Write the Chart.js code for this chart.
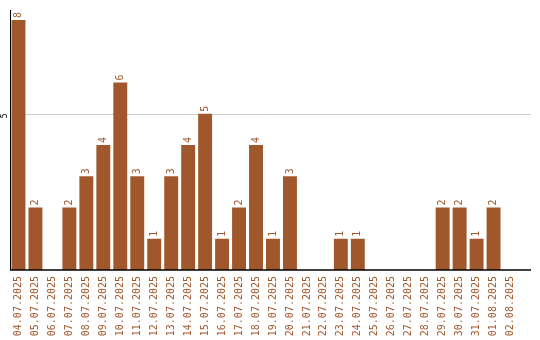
<!DOCTYPE html>
<html>
<head>
<meta charset="utf-8">
<script src="https://cdn.jsdelivr.net/npm/chart.js@4/dist/chart.umd.min.js"></script>
<style>
    html, body { margin: 0; padding: 0; background: #fff; }
    #wrap { width: 540px; height: 340px; }
</style>
</head>
<body>
<div id="wrap"><canvas id="grafico"></canvas></div>
<script>
// data
const fechas = ['04.07.2025', '05.07.2025', '06.07.2025', '07.07.2025', '08.07.2025', '09.07.2025',
    '10.07.2025', '11.07.2025', '12.07.2025', '13.07.2025', '14.07.2025', '15.07.2025',
    '16.07.2025', '17.07.2025', '18.07.2025', '19.07.2025', '20.07.2025', '21.07.2025',
    '22.07.2025', '23.07.2025', '24.07.2025', '25.07.2025', '26.07.2025', '27.07.2025',
    '28.07.2025', '29.07.2025', '30.07.2025', '31.07.2025', '01.08.2025', '02.08.2025'];
const cantidades = [8, 2, 0, 2, 3, 4, 6, 3, 1, 3, 4, 5, 1, 2, 4, 1, 3, 0, 0, 1, 1, 0, 0, 0, 0, 2, 2, 1, 2, 0];
const ticksY = [5];

const color = '#a0572b';
const fuente = '"DejaVu Sans Mono", monospace';

// axis lines, the grid line, the rotated y tick and the value labels
const extras = {
    id: 'extras',
    beforeDatasetsDraw(chart) {
        const { ctx, chartArea, scales } = chart;
        const finX = chart.width - 9;
        ctx.save();
        ctx.strokeStyle = '#cccccc';
        ctx.lineWidth = 1;
        ticksY.forEach(v => {
            const y = Math.round(scales.y.getPixelForValue(v)) + 0.5;
            ctx.beginPath();
            ctx.moveTo(chartArea.left, y);
            ctx.lineTo(finX, y);
            ctx.stroke();
        });
        ctx.restore();
    },
    afterDatasetsDraw(chart) {
        const { ctx, chartArea, scales } = chart;
        const finX = chart.width - 9;
        ctx.save();
        ctx.strokeStyle = '#000';
        ctx.lineWidth = 1.5;
        ctx.beginPath();
        ctx.moveTo(chartArea.left, chartArea.bottom);
        ctx.lineTo(finX, chartArea.bottom);
        ctx.stroke();
        ctx.lineWidth = 1;
        ctx.beginPath();
        ctx.moveTo(chartArea.left + 0.5, chartArea.top);
        ctx.lineTo(chartArea.left + 0.5, chartArea.bottom);
        ctx.stroke();

        // y tick labels
        ctx.fillStyle = '#000';
        ctx.font = '8px ' + fuente;
        ctx.textAlign = 'center';
        ctx.textBaseline = 'middle';
        ticksY.forEach(v => {
            const y = scales.y.getPixelForValue(v);
            ctx.save();
            ctx.translate(chartArea.left - 5, y + 2);
            ctx.rotate(-Math.PI / 2);
            ctx.fillText(String(v), 0, 0);
            ctx.restore();
        });

        // value labels above bars
        ctx.fillStyle = color;
        ctx.font = '10px ' + fuente;
        ctx.textAlign = 'left';
        const meta = chart.getDatasetMeta(0);
        meta.data.forEach((bar, i) => {
            if (!cantidades[i]) return;
            ctx.save();
            ctx.translate(bar.x, bar.y - 2);
            ctx.rotate(-Math.PI / 2);
            ctx.fillText(String(cantidades[i]), 0, 0);
            ctx.restore();
        });
        ctx.restore();
    }
};

const ctx = document.getElementById('grafico').getContext('2d');
const grafico = new Chart(ctx, {
    type: 'bar',
    data: {
        labels: fechas,
        datasets: [{
            data: cantidades,
            backgroundColor: color,
            borderWidth: 0,
            barPercentage: 0.82,
            categoryPercentage: 1
        }]
    },
    options: {
        responsive: true,
        maintainAspectRatio: false,
        animation: false,
        layout: { padding: { left: 10, right: 21, top: 10, bottom: 0 } },
        plugins: { legend: { display: false }, tooltip: { enabled: false } },
        scales: {
            x: {
                grid: { display: false, drawTicks: false },
                border: { display: false },
                ticks: {
                    color: color,
                    font: { family: fuente, size: 10 },
                    minRotation: 90,
                    maxRotation: 90,
                    autoSkip: false,
                    padding: 6
                },
                afterFit(scale) { scale.height = 70; }
            },
            y: {
                min: 0,
                max: 8.32,
                grid: { display: false },
                border: { display: false },
                ticks: { display: false },
                afterBuildTicks(scale) { scale.ticks = ticksY.map(v => ({ value: v })); },
                afterFit(scale) { scale.width = 0; }
            }
        }
    },
    plugins: [extras]
});
</script>
</body>
</html>
